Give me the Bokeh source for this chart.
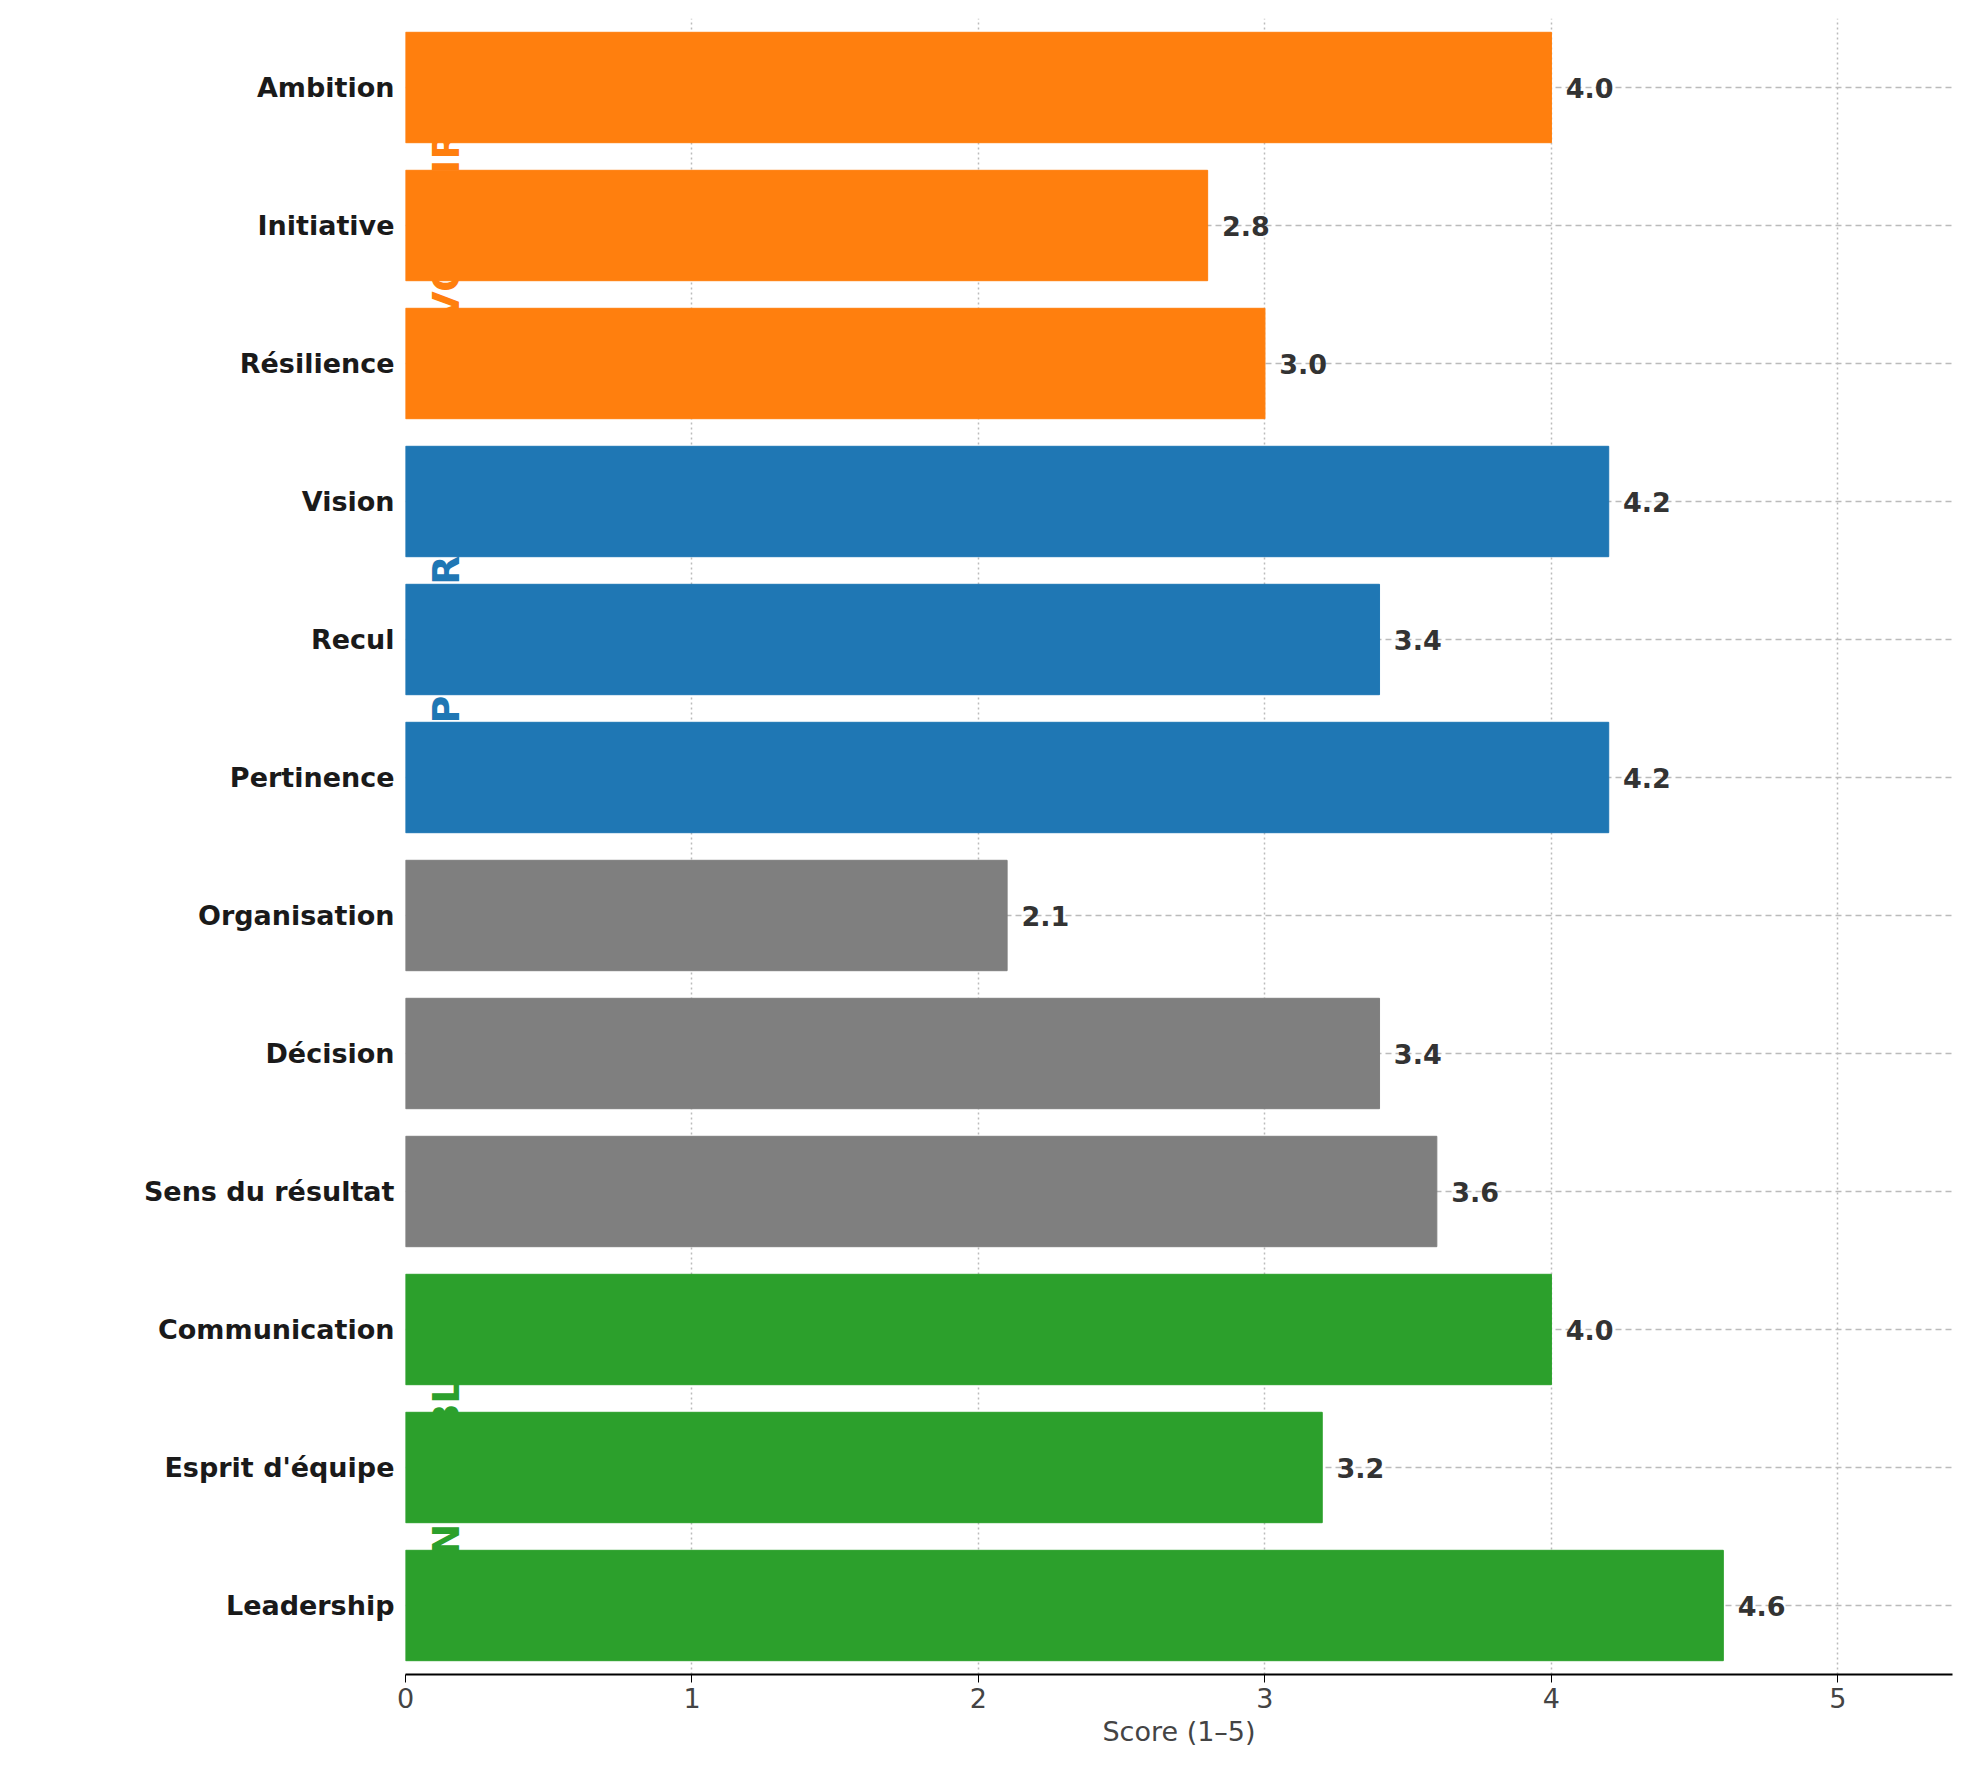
import math
from bokeh.plotting import figure
from bokeh.models import ColumnDataSource, Label, FixedTicker, Range1d
from bokeh.core.properties import value
from bokeh.embed import file_html
from bokeh.resources import INLINE

labels = ["Leadership", "Esprit d'équipe", "Communication",
          "Sens du résultat", "Décision", "Organisation",
          "Pertinence", "Recul", "Vision",
          "Résilience", "Initiative", "Ambition"]
scores = [4.6, 3.2, 4.0, 3.6, 3.4, 2.1, 4.2, 3.4, 4.2, 3.0, 2.8, 4.0]
groups = ["ENSEMBLE"] * 3 + ["AGIR"] * 3 + ["PENSER"] * 3 + ["VOULOIR"] * 3
group_colors = {"ENSEMBLE": "#2ca02c", "AGIR": "#7f7f7f", "PENSER": "#1f77b4", "VOULOIR": "#ff7f0e"}
group_order = ["ENSEMBLE", "AGIR", "PENSER", "VOULOIR"]

ypos = list(range(len(labels)))
src = ColumnDataSource(dict(y=ypos, v=scores, c=[group_colors[g] for g in groups],
                            lx=[s + 0.05 for s in scores], t=[f"{s:.1f}" for s in scores]))

FONT = "DejaVu Sans"
p = figure(width=1966, height=1764, output_backend="svg", toolbar_location=None,
           x_range=Range1d(0, 5.4), y_range=Range1d(-0.5, 11.5),
           min_border_left=405, min_border_right=14, min_border_top=18, min_border_bottom=90)
p.outline_line_color = None
p.hbar(y="y", right="v", left=0, height=0.8, color="c", source=src)
p.text(x="lx", y="y", text="t", source=src, text_font=value(FONT), text_font_style="bold",
       text_font_size="27px", text_color="#333333", text_baseline="middle")

p.xaxis.ticker = FixedTicker(ticks=[0, 1, 2, 3, 4, 5])
p.xaxis.axis_label = "Score (1–5)"
p.xaxis.axis_label_text_font = FONT
p.xaxis.axis_label_text_font_style = "normal"
p.xaxis.axis_label_text_font_size = "27px"
p.xaxis.major_label_text_font = FONT
p.xaxis.major_label_text_font_size = "27px"
p.xaxis.axis_line_width = 2
p.xaxis.minor_tick_line_color = None
p.xaxis.major_tick_in = 0
p.xaxis.major_tick_out = 8

p.yaxis.ticker = FixedTicker(ticks=ypos)
p.yaxis.major_label_overrides = {i: l for i, l in enumerate(labels)}
p.yaxis.major_label_text_font = FONT
p.yaxis.major_label_text_font_style = "bold"
p.yaxis.major_label_text_font_size = "27px"
p.yaxis.major_label_text_color = "#1a1a1a"
p.yaxis.axis_line_color = None
p.yaxis.major_tick_line_color = None
p.yaxis.minor_tick_line_color = None

p.xgrid.grid_line_color = "#bbbbbb"
p.xgrid.grid_line_dash = "2 3"
p.xgrid.grid_line_width = 1.5
p.ygrid.ticker = FixedTicker(ticks=ypos)
p.ygrid.grid_line_color = "#bbbbbb"
p.ygrid.grid_line_dash = "6 4"
p.ygrid.grid_line_width = 1.5

for gi, g in enumerate(group_order):
    p.add_layout(Label(x=40, x_units="screen", y=gi * 3 + 1, text=g, angle=math.pi / 2,
                       text_align="center", text_baseline="middle",
                       text_font=FONT, text_font_style="bold", text_font_size="38px",
                       text_color=group_colors[g]))

open("out.html", "w").write(file_html(p, INLINE))
